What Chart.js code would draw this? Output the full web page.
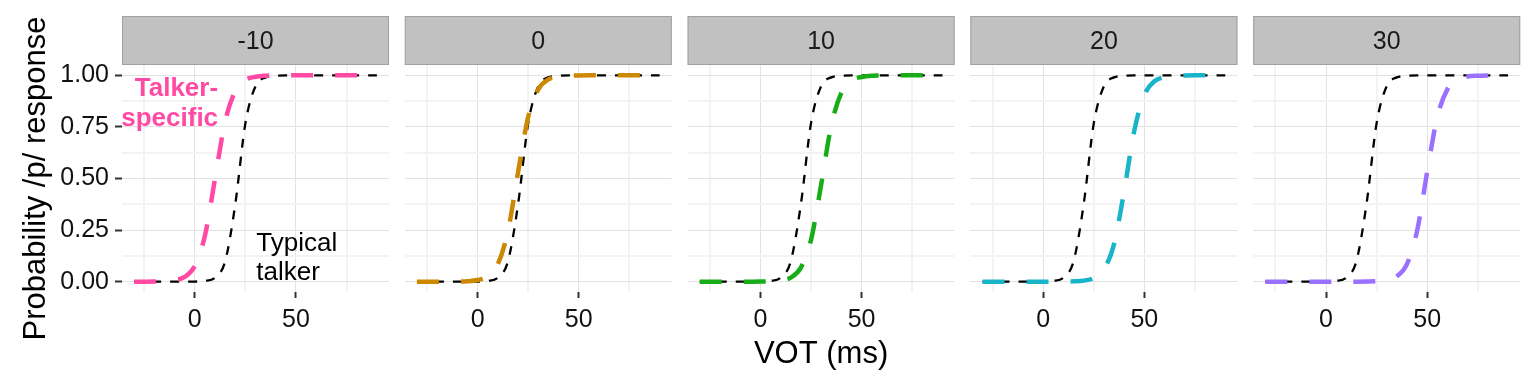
<!DOCTYPE html>
<html><head><meta charset="utf-8">
<script src="https://cdn.jsdelivr.net/npm/chart.js@4/dist/chart.umd.min.js"></script>
<style>
html,body{margin:0;padding:0;background:#fff;width:1536px;height:384px;overflow:hidden}
#root{position:absolute;left:0;top:0;width:1536px;height:384px}
canvas{position:absolute;left:0;top:0}
</style></head><body>
<div id="root"></div>
<script>
// ---- data ----
const vot = [-30,-25,-20,-15,-10,-5,0,5,10,15,20,25,30,35,40,45,50,55,60,65,70,75,80,85,90];
const typical = [0,0,0,0,0,0.0001,0.0007,0.004,0.020,0.099,0.375,0.767,0.947,0.990,0.998,1,1,1,1,1,1,1,1,1,1];
const talkerShiftM10 = [0,0.0002,0.0006,0.002,0.007,0.023,0.076,0.223,0.5,0.777,0.924,0.977,0.993,0.998,0.999,1,1,1,1,1,1,1,1,1,1];
const talkerShift0   = [0,0,0.0001,0.0002,0.0006,0.002,0.008,0.026,0.085,0.245,0.531,0.798,0.932,0.980,0.994,0.998,0.9995,1,1,1,1,1,1,1,1];
const talkerShift10  = [0,0,0,0,0,0.0001,0.0005,0.002,0.006,0.020,0.068,0.202,0.469,0.755,0.915,0.974,0.992,0.998,0.999,1,1,1,1,1,1];
const talkerShift20  = [0,0,0,0,0,0,0,0.0001,0.0004,0.0015,0.005,0.018,0.060,0.182,0.438,0.731,0.905,0.971,0.991,0.997,0.999,1,1,1,1];
const talkerShift30  = [0,0,0,0,0,0,0,0,0,0.0002,0.0006,0.002,0.008,0.026,0.085,0.245,0.531,0.798,0.932,0.980,0.994,0.998,0.9995,1,1];
const facetLabels = ['-10','0','10','20','30'];
const talkerSeries = [talkerShiftM10, talkerShift0, talkerShift10, talkerShift20, talkerShift30];
const facetColors = ['#FF4AA5','#CC8800','#18AD18','#18B4C8','#9A70FF'];
const xTickValues = [-25,0,25,50,75];
const xTickLabels = ['', '0', '', '50', ''];
const yTickValues = [0,0.125,0.25,0.375,0.5,0.625,0.75,0.875,1];
const yTickLabels = ['0.00','','0.25','','0.50','','0.75','','1.00'];
const talkerNote = ['Talker-','specific'];
const typicalNote = ['Typical','talker'];
const xTitle = 'VOT (ms)';
const yTitle = 'Probability /p/ response';

// ---- layout ----
const FONT = '"Liberation Sans", Arial, Helvetica, sans-serif';
Chart.defaults.font.family = FONT;
const panelLefts = [122, 404.8, 687.6, 970.4, 1253.2];
const panelW = 267;

const stripPlugin = {
  id: 'strip',
  afterDraw(chart, args, opts) {
    const {ctx, chartArea: {left, right}} = chart;
    ctx.save();
    ctx.fillStyle = '#c1c1c1';
    ctx.fillRect(left, 16, right - left, 49);
    ctx.strokeStyle = '#a0a0a0';
    ctx.lineWidth = 1;
    ctx.strokeRect(left + 0.5, 16.5, right - left - 1, 48);
    ctx.fillStyle = '#1a1a1a';
    ctx.font = '25px ' + FONT;
    ctx.textAlign = 'center';
    ctx.textBaseline = 'middle';
    ctx.fillText(opts.label, (left + right) / 2, 42);
    ctx.restore();
  }
};

const notePlugin = {
  id: 'notes',
  afterDatasetsDraw(chart, args, opts) {
    if (!opts.show) return;
    const {ctx, scales: {x, y}} = chart;
    ctx.save();
    ctx.textBaseline = 'middle';
    ctx.font = 'bold 26px ' + FONT;
    ctx.fillStyle = facetColors[0];
    ctx.textAlign = 'right';
    ctx.fillText(talkerNote[0], x.getPixelForValue(11.5), y.getPixelForValue(0.935));
    ctx.fillText(talkerNote[1], x.getPixelForValue(11.5), y.getPixelForValue(0.79));
    ctx.font = '26px ' + FONT;
    ctx.fillStyle = '#000';
    ctx.textAlign = 'left';
    ctx.fillText(typicalNote[0], x.getPixelForValue(30.4), y.getPixelForValue(0.185));
    ctx.fillText(typicalNote[1], x.getPixelForValue(30.4), y.getPixelForValue(0.042));
    ctx.restore();
  }
};

const isMajorX = v => Math.abs(v % 50) < 1e-9;
const isMajorY = v => Math.abs(v * 4 - Math.round(v * 4)) < 1e-9;

const root = document.getElementById('root');
facetLabels.forEach((lab, i) => {
  const cv = document.createElement('canvas');
  cv.width = 1536; cv.height = 384;
  cv.style.width = '1536px'; cv.style.height = '384px';
  root.appendChild(cv);
  const L = panelLefts[i];
  new Chart(cv, {
    type: 'line',
    data: {
      datasets: [
        {
          data: vot.map((v, j) => ({x: v, y: talkerSeries[i][j]})),
          borderColor: facetColors[i], borderWidth: 4.5, borderDash: [22, 22],
          pointRadius: 0, cubicInterpolationMode: 'monotone', fill: false
        },
        {
          data: vot.map((v, j) => ({x: v, y: typical[j]})),
          borderColor: '#000', borderWidth: 2.3, borderDash: [9, 9],
          pointRadius: 0, cubicInterpolationMode: 'monotone', fill: false
        }
      ]
    },
    options: {
      responsive: false, animation: false, devicePixelRatio: 1,
      events: [],
      layout: {padding: {left: i === 0 ? 0 : L, right: 1536 - (L + panelW), top: 65, bottom: 11}},
      plugins: {legend: {display: false}, tooltip: {enabled: false},
        strip: {label: lab}, notes: {show: i === 0}},
      scales: {
        x: {
          type: 'linear', min: -36, max: 96,
          afterBuildTicks: s => { s.ticks = xTickValues.map(v => ({value: v})); },
          afterFit: s => { s.height = 81; },
          border: {display: false},
          grid: {
            color: c => isMajorX(c.tick.value) ? '#e2e2e2' : '#f3f3f3',
            lineWidth: c => isMajorX(c.tick.value) ? 1 : 2,
            tickColor: c => isMajorX(c.tick.value) ? '#333' : 'rgba(0,0,0,0)',
            tickWidth: 2, tickLength: 6
          },
          ticks: {
            autoSkip: false, maxRotation: 0, minRotation: 0, padding: 7,
            color: '#111', font: {size: 25},
            callback: (v) => xTickLabels[xTickValues.indexOf(v)] ?? ''
          },
          title: {display: i === 2, text: xTitle, color: '#000', font: {size: 31}, padding: 0}
        },
        y: {
          type: 'linear', min: -0.05, max: 1.05,
          afterBuildTicks: s => { s.ticks = yTickValues.map(v => ({value: v})); },
          afterFit: s => { s.width = i === 0 ? 122 : 0; },
          border: {display: false},
          grid: {
            color: c => isMajorY(c.tick.value) ? '#e2e2e2' : '#f3f3f3',
            lineWidth: c => isMajorY(c.tick.value) ? 1 : 2,
            tickColor: c => isMajorY(c.tick.value) ? '#333' : 'rgba(0,0,0,0)',
            tickWidth: 2, tickLength: 7, drawTicks: i === 0
          },
          ticks: {
            display: i === 0, autoSkip: false, padding: 6,
            color: '#111', font: {size: 25},
            callback: (v) => yTickLabels[yTickValues.indexOf(v)] ?? ''
          },
          title: {display: i === 0, text: yTitle, color: '#000', font: {size: 31}, padding: {top: 18, bottom: 0}}
        }
      }
    },
    plugins: [stripPlugin, notePlugin]
  });
});
</script>
</body></html>
